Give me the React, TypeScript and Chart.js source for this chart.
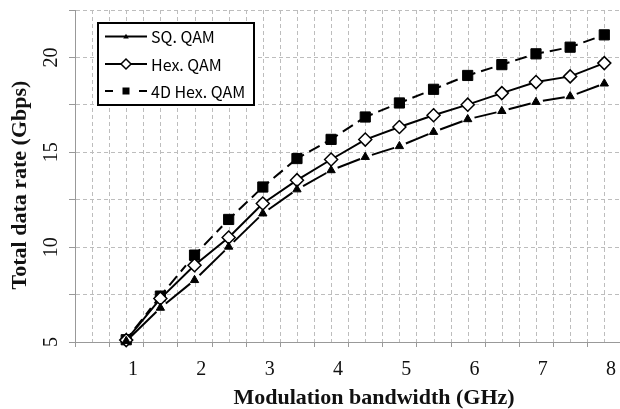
import React, { useEffect, useRef } from 'react';
import { Chart, registerables } from 'chart.js';

Chart.register(...registerables);

// ---- data ----
const bandwidth = [0.9, 1.4, 1.9, 2.4, 2.9, 3.4, 3.9, 4.4, 4.9, 5.4, 5.9, 6.4, 6.9, 7.4, 7.9];
const sqQam = [5.05, 6.8, 8.26, 10.02, 11.77, 13.04, 14.05, 14.75, 15.32, 16.07, 16.74, 17.17, 17.65, 17.95, 18.62];
const hexQam = [5.1, 7.29, 9.05, 10.51, 12.3, 13.53, 14.62, 15.67, 16.33, 16.95, 17.51, 18.12, 18.7, 19.0, 19.7];
const hex4dQam = [5.12, 7.42, 9.58, 11.46, 13.17, 14.67, 15.68, 16.86, 17.6, 18.32, 19.05, 19.62, 20.19, 20.54, 21.19];
const seriesNames = ['SQ. QAM', 'Hex. QAM', '4D Hex. QAM'];
const xTickLabels = [1, 2, 3, 4, 5, 6, 7, 8];
const yTickLabels = [5, 10, 15, 20];
const xTitle = 'Modulation bandwidth (GHz)';
const yTitle = 'Total data rate (Gbps)';
const xMin = 0.15;
const xMax = 8.13;
const xGridStep = 0.25;
const yMin = 5;
const yMax = 22.5;
const yGridStep = 2.5;

const toPoints = (ys: number[]) => ys.map((y, i) => ({ x: bandwidth[i], y }));

const SERIF = '"Liberation Serif", "Times New Roman", serif';
const SANS = '"Noto Sans CJK KR", "Noto Sans", sans-serif';
const GRID = '#bdbdbd';
const AXIS = '#999';

function drawTriangle(ctx: CanvasRenderingContext2D, x: number, y: number, r: number) {
  ctx.beginPath();
  ctx.moveTo(x, y - r);
  ctx.lineTo(x + r * 0.866, y + r * 0.5);
  ctx.lineTo(x - r * 0.866, y + r * 0.5);
  ctx.closePath();
  ctx.fillStyle = '#000';
  ctx.fill();
}

// vertical grid lines and x tick marks, placed by the x scale's own ticks
const xGridPlugin = {
  id: 'xGridPlugin',
  beforeDatasetsDraw(chart: any) {
    const { ctx, chartArea } = chart;
    const xs = chart.scales.x;
    ctx.save();
    ctx.lineWidth = 1;
    ctx.strokeStyle = GRID;
    ctx.setLineDash([4, 3]);
    xs.ticks.forEach((t: any) => {
      const px = Math.round(xs.getPixelForValue(t.value)) + 0.5;
      if (px <= chartArea.left + 1) return;
      ctx.beginPath();
      ctx.moveTo(px, chartArea.top);
      ctx.lineTo(px, chartArea.bottom);
      ctx.stroke();
    });
    ctx.setLineDash([]);
    ctx.strokeStyle = AXIS;
    xs.ticks.forEach((t: any, i: number) => {
      if (i % 2 !== 0) return;
      const px = Math.round(xs.getPixelForValue(t.value)) + 0.5;
      ctx.beginPath();
      ctx.moveTo(px, chartArea.bottom);
      ctx.lineTo(px, chartArea.bottom + 5);
      ctx.stroke();
    });
    ctx.restore();
  },
};

const textPlugin = {
  id: 'textPlugin',
  afterDraw(chart: any) {
    const { ctx } = chart;
    const xs = chart.scales.x;
    const ys = chart.scales.y;
    ctx.save();
    ctx.fillStyle = '#111';
    ctx.textAlign = 'center';
    ctx.textBaseline = 'middle';
    ctx.font = `20px ${SERIF}`;
    xTickLabels.forEach((v) => {
      ctx.fillText(String(v), xs.getPixelForValue(v), 370);
    });
    yTickLabels.forEach((v) => {
      ctx.save();
      ctx.translate(52, ys.getPixelForValue(v));
      ctx.rotate(-Math.PI / 2);
      ctx.fillText(String(v), 0, 0);
      ctx.restore();
    });
    ctx.font = `bold 22px ${SERIF}`;
    ctx.fillText(xTitle, 374, 398);
    ctx.save();
    ctx.translate(20, 185);
    ctx.rotate(-Math.PI / 2);
    ctx.fillText(yTitle, 0, 0);
    ctx.restore();

    // legend
    const lx = 98, ly = 23, lw = 156, lh = 82;
    ctx.fillStyle = '#fff';
    ctx.fillRect(lx, ly, lw, lh);
    ctx.lineWidth = 2;
    ctx.strokeStyle = '#000';
    ctx.strokeRect(lx, ly, lw, lh);
    const rows = [36.5, 64, 91];
    const sx0 = 105, sx1 = 147, mx = 126;
    ctx.lineWidth = 2;
    ctx.beginPath();
    ctx.moveTo(sx0, rows[0]);
    ctx.lineTo(sx1, rows[0]);
    ctx.stroke();
    drawTriangle(ctx, mx, rows[0] + 0.5, 3.2);
    ctx.beginPath();
    ctx.moveTo(sx0, rows[1]);
    ctx.lineTo(sx1, rows[1]);
    ctx.stroke();
    ctx.beginPath();
    ctx.moveTo(mx - 5, rows[1]);
    ctx.lineTo(mx, rows[1] - 5);
    ctx.lineTo(mx + 5, rows[1]);
    ctx.lineTo(mx, rows[1] + 5);
    ctx.closePath();
    ctx.fillStyle = '#fff';
    ctx.fill();
    ctx.lineWidth = 1.5;
    ctx.stroke();
    ctx.lineWidth = 2;
    ctx.beginPath();
    ctx.moveTo(sx0, rows[2]);
    ctx.lineTo(sx0 + 8, rows[2]);
    ctx.moveTo(sx1 - 8, rows[2]);
    ctx.lineTo(sx1, rows[2]);
    ctx.stroke();
    ctx.fillStyle = '#000';
    ctx.fillRect(mx - 3.5, rows[2] - 3.5, 7, 7);

    ctx.fillStyle = '#000';
    ctx.textAlign = 'left';
    ctx.font = `16px ${SANS}`;
    seriesNames.forEach((n, i) => ctx.fillText(n, 151, rows[i] + 0.5));
    ctx.restore();
  },
};

export default function App() {
  const ref = useRef<HTMLCanvasElement | null>(null);

  useEffect(() => {
    document.body.style.margin = '0';
    const canvas = ref.current;
    if (!canvas) return;

    const gridTicks: { value: number }[] = [];
    for (let v = xMin; v <= xMax + 1e-9; v += xGridStep) gridTicks.push({ value: Math.round(v * 100) / 100 });

    const chart = new Chart(canvas, {
      type: 'line',
      data: {
        datasets: [
          {
            label: seriesNames[0],
            data: toPoints(sqQam),
            borderColor: '#000',
            borderWidth: 2,
            pointStyle: 'triangle',
            pointRadius: 4.8,
            pointBackgroundColor: '#000',
            pointBorderColor: '#000',
            pointBorderWidth: 1,
            tension: 0,
            fill: false,
            clip: false,
            segment: {
              borderDash: (c: any) => {
                const s = Math.hypot(c.p1.x - c.p0.x, c.p1.y - c.p0.y) || 30;
                return [0, 7, Math.max(1, s - 12.5), 1000 + c.p0DataIndex];
              },
            },
          } as any,
          {
            label: seriesNames[1],
            data: toPoints(hexQam),
            borderColor: '#000',
            borderWidth: 2,
            pointStyle: 'rectRot',
            pointRadius: 6.5,
            pointBackgroundColor: '#fff',
            pointBorderColor: '#000',
            pointBorderWidth: 1.5,
            tension: 0,
            fill: false,
            clip: false,
          } as any,
          {
            label: seriesNames[2],
            data: toPoints(hex4dQam),
            borderColor: '#000',
            borderWidth: 2,
            pointStyle: 'rect',
            pointRadius: 7.2,
            pointBackgroundColor: '#000',
            pointBorderColor: '#000',
            pointBorderWidth: 1,
            tension: 0,
            fill: false,
            clip: false,
            segment: {
              borderDash: (c: any) => [8, 6, 12, 6 + c.p0DataIndex * 0.001],
            },
          } as any,
        ],
      },
      options: {
        animation: false,
        responsive: false,
        maintainAspectRatio: false,
        events: [],
        layout: { autoPadding: false, padding: { top: 10, left: 0, right: 0, bottom: 0 } },
        plugins: { legend: { display: false }, tooltip: { enabled: false } },
        scales: {
          x: {
            type: 'linear',
            min: xMin,
            max: xMax,
            afterBuildTicks: (s: any) => {
              s.ticks = gridTicks.map((t) => ({ value: t.value }));
            },
            afterFit: (s: any) => {
              s.height = 67;
            },
            ticks: { display: false },
            grid: { display: false },
            border: { display: true, color: AXIS, width: 1 },
          },
          y: {
            type: 'linear',
            min: yMin,
            max: yMax,
            afterFit: (s: any) => {
              s.width = 75;
            },
            ticks: { display: false, stepSize: yGridStep },
            grid: { color: GRID, tickColor: AXIS, tickLength: 6, tickBorderDash: [] },
            border: { color: AXIS, dash: [4, 3], width: 1 },
          },
        },
      } as any,
      plugins: [xGridPlugin, textPlugin],
    });

    return () => chart.destroy();
  }, []);

  return (
    <div style={{ width: 620, height: 409, position: 'relative', background: '#fff' }}>
      <canvas ref={ref} width={620} height={409} style={{ display: 'block' }} />
    </div>
  );
}
